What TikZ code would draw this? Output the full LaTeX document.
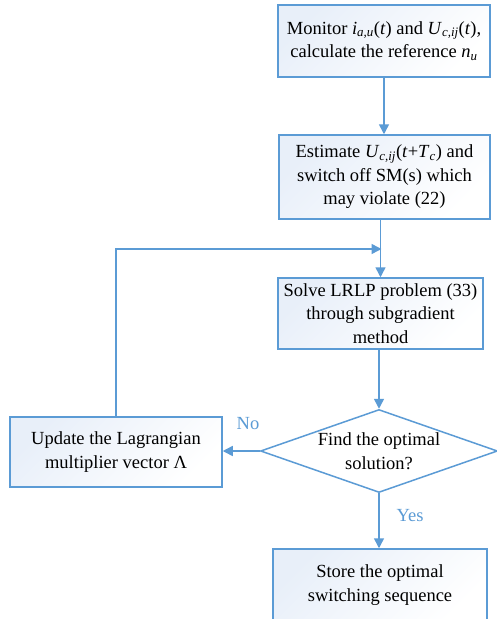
\documentclass[tikz,border=0pt]{standalone}
\usepackage{fontspec}
\setmainfont{Liberation Serif}
\usetikzlibrary{shapes.geometric,arrows.meta}
\definecolor{lblue}{RGB}{91,155,213}
\definecolor{fillb}{RGB}{232,239,249}
\newcommand{\sub}[1]{\textsubscript{\textit{#1}}}
\begin{document}
\begin{tikzpicture}[x=1pt,y=-1pt,
  every node/.style={font=\fontsize{18.5}{23.5}\selectfont},
  procbox/.style={draw=lblue,line width=1.5pt,top color=fillb,bottom color=white,shading angle=45,
    minimum width=#1,align=center,inner sep=0pt},
  decbox/.style={draw=lblue,line width=1.5pt,shape=diamond,fill=white,inner sep=0pt},
  arr/.style={draw=lblue,line width=1.5pt,-{Triangle[width=10pt,length=10pt]}},
  lbl/.style={text=lblue}]
\useasboundingbox (0,0) rectangle (496,619);
\fill[white] (0,0) rectangle (496,619);
\node[procbox=212, minimum height=72] (b1) at (384,41)
  {Monitor \textit{i}\sub{a,u}(\textit{t}) and \textit{U}\sub{c,ij}(\textit{t}),\\calculate the reference \textit{n}\sub{u}};
\node[procbox=211, minimum height=84] (b2) at (384.5,177)
  {Estimate \textit{U}\sub{c,ij}(\textit{t}+\textit{T}\sub{c}) and\\switch off SM(s) which\\may violate (22)};
\node[procbox=205, minimum height=71] (b3) at (380.5,313.5)
  {Solve LRLP problem (33)\\through subgradient\\method};
\node[decbox, minimum width=237, minimum height=83,
  label={[align=center,font=\fontsize{18.5}{23.5}\selectfont]center:Find the optimal\\solution?}] (dia) at (379,451) {};
\node[procbox=212, minimum height=70] (upd) at (116,452)
  {Update the Lagrangian\\multiplier vector Λ};
\node[procbox=214, minimum height=72] (b5) at (380,585)
  {Store the optimal\\switching sequence};
\coordinate (fb) at (381.5,249);
\draw[arr] (b1.south) -- (b1.south |- b2.north);
\draw[arr] (b2.south -| b3.north) -- (b3.north);
\draw[arr] (upd.north) |- (fb);
\draw[arr] (dia.north |- b3.south) -- (dia.north);
\draw[arr] (dia.west) -- (dia.west -| upd.east);
\draw[arr] (dia.south) -- (dia.south |- b5.north);
\node[lbl] (no) at (248,424) {No};
\node[lbl] (yes) at (410,516) {Yes};
\end{tikzpicture}
\end{document}
